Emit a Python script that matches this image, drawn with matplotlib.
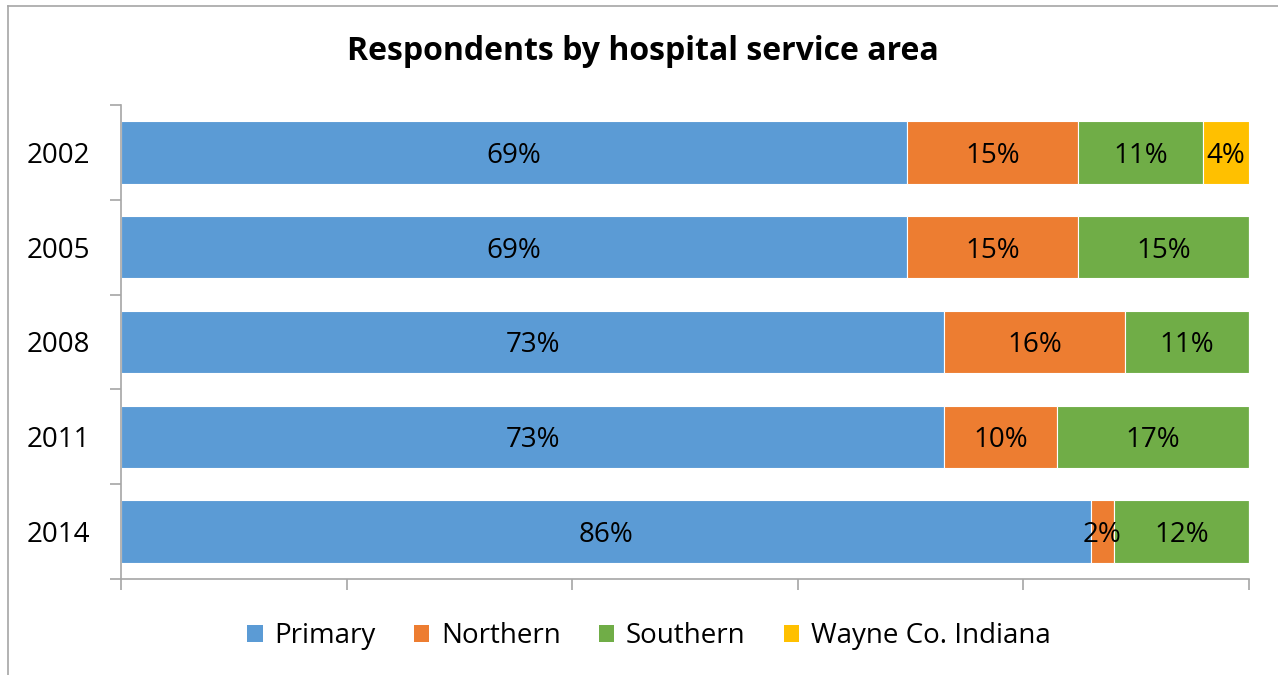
import numpy as np
import matplotlib.pyplot as plt
from matplotlib.lines import Line2D
from matplotlib.patches import Patch

plt.rcParams['font.family'] = ['Open Sans', 'DejaVu Sans']

years = ['2002', '2005', '2008', '2011', '2014']
primary = [69, 69, 73, 73, 86]
northern = [15, 15, 16, 10, 2]
southern = [11, 15, 11, 17, 12]
wayne = [4, 0, 0, 0, 0]

series = [('Primary', primary, '#5B9BD5'),
          ('Northern', northern, '#ED7D31'),
          ('Southern', southern, '#70AD47'),
          ('Wayne Co. Indiana', wayne, '#FFC000')]

fig = plt.figure(figsize=(12.78, 6.75), dpi=100)
ax = fig.add_axes([121/1278, 1-579/675, 1128/1278, 474/675])

totals = np.array(primary) + np.array(northern) + np.array(southern) + np.array(wayne)
ypos = np.arange(len(years))[::-1]
left = np.zeros(len(years))
for name, vals, col in series:
    v = np.array(vals, dtype=float)
    w = v / totals * 100
    ax.barh(ypos, w, left=left, height=0.66, color=col, edgecolor='white',
            linewidth=0.8, label=name)
    for i in range(len(years)):
        if vals[i] > 0:
            ax.text(left[i] + w[i]/2, ypos[i], '%d%%' % vals[i], ha='center',
                    va='center_baseline', fontsize=20, color='black')
    left += w

ax.set_xlim(0, 100)
ax.set_ylim(-0.5, len(years) - 0.5)
ax.set_xticks(np.arange(0, 101, 20))
ax.set_xticklabels([])
ax.set_yticks(ypos)
ax.set_yticklabels(years, fontsize=20, va='center_baseline')
ax.set_yticks(np.arange(-0.5, len(years), 1), minor=True)
ax.tick_params(axis='y', which='major', length=0, pad=22)
ax.tick_params(axis='y', which='minor', length=8, color='#a6a6a6', width=1.2)
ax.tick_params(axis='x', length=8, color='#a6a6a6', width=1.2)
for s in ['top', 'right']:
    ax.spines[s].set_visible(False)
for s in ['left', 'bottom']:
    ax.spines[s].set_color('#a6a6a6')
    ax.spines[s].set_linewidth(1.2)

fig.text(643/1278, 1-52/675, 'Respondents by hospital service area',
         fontsize=23, fontweight='bold', ha='center', va='center')

handles = [Patch(facecolor=c, edgecolor='none') for _, _, c in series]
fig.legend(handles, [n for n, _, _ in series], loc='center',
           bbox_to_anchor=(649/1278, 1-636/675), ncol=4, frameon=False,
           fontsize=20, handlelength=0.55, handleheight=0.55,
           handletextpad=0.43, columnspacing=1.37)

# chart frame (left and top edges)
fig.add_artist(Line2D([8/1278, 8/1278], [0, 1-6/675], color='#a6a6a6', lw=1.2,
                      transform=fig.transFigure))
fig.add_artist(Line2D([8/1278, 1], [1-6/675, 1-6/675], color='#a6a6a6', lw=1.2,
                      transform=fig.transFigure))

fig.savefig('out.png', dpi=100)
